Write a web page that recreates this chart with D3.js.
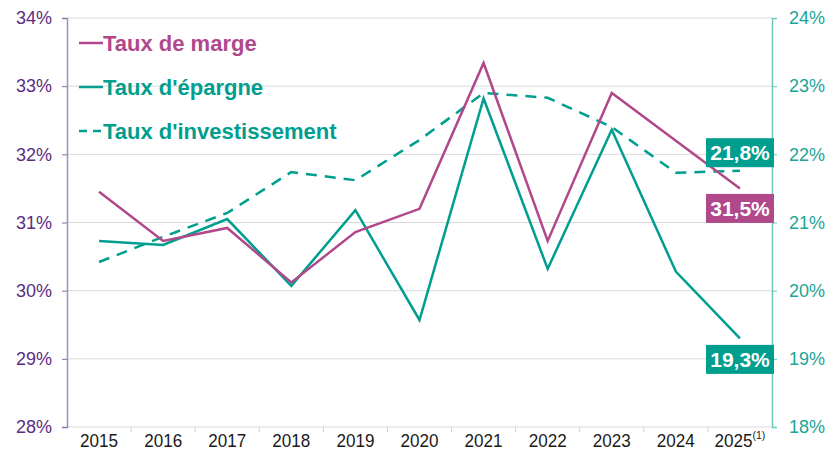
<!DOCTYPE html>
<html>
<head>
<meta charset="utf-8">
<script src="https://cdn.jsdelivr.net/npm/d3@7"></script>
<style>
  body { margin: 0; background: #fff; }
  text { font-family: "Liberation Sans", Arial, sans-serif; }
</style>
</head>
<body>
<div id="chart"></div>
<script>
const years = ["2015","2016","2017","2018","2019","2020","2021","2022","2023","2024","2025"];
const tauxMarge = [31.45, 30.73, 30.92, 30.12, 30.86, 31.2, 33.34, 30.73, 32.9, 32.2, 31.5];
const tauxEpargne = [20.73, 20.67, 21.05, 20.07, 21.18, 19.57, 22.82, 20.32, 22.36, 20.28, 19.3];
const tauxInvest = [20.42, 20.79, 21.14, 21.74, 21.62, 22.21, 22.9, 22.83, 22.4, 21.73, 21.76];
const leftTicks = [28, 29, 30, 31, 32, 33, 34];
const rightTicks = [18, 19, 20, 21, 22, 23, 24];
const endLabels = ["21,8%", "31,5%", "19,3%"];

const width = 826, height = 452;
const margin = { left: 67, right: 54, top: 18, bottom: 25 };
const pink = "#b0488b", teal = "#009e8e";

const svg = d3.select("#chart").append("svg")
  .attr("width", width).attr("height", height);

const x = d3.scaleBand().domain(years)
  .range([margin.left, width - margin.right]);
const yL = d3.scaleLinear().domain([28, 34]).range([height - margin.bottom, margin.top]);
const yR = d3.scaleLinear().domain([18, 24]).range([height - margin.bottom, margin.top]);
const cx = d => x(d) + x.bandwidth() / 2;

// gridlines
svg.append("g").selectAll("line").data(leftTicks).enter().append("line")
  .attr("x1", margin.left).attr("x2", width - margin.right)
  .attr("y1", d => yL(d)).attr("y2", d => yL(d))
  .attr("stroke", "#d9d9d9").attr("stroke-width", 1);

// left axis
const gl = svg.append("g").attr("transform", `translate(${margin.left},0)`)
  .call(d3.axisLeft(yL).tickValues(leftTicks).tickFormat(d => d + "%").tickSize(5).tickPadding(10));
gl.select(".domain").attr("stroke", "#a98bc2").attr("stroke-width", 1.5);
gl.selectAll(".tick line").attr("stroke", "#8a6aa8");
gl.selectAll("text").attr("fill", "#5b2d82").style("font-size", "18px");

// right axis
const gr = svg.append("g").attr("transform", `translate(${width - margin.right},0)`)
  .call(d3.axisRight(yR).tickValues(rightTicks).tickFormat(d => d + "%").tickSize(5).tickPadding(12));
gr.select(".domain").attr("stroke", "#6cc6bb").attr("stroke-width", 1.5);
gr.selectAll(".tick line").attr("stroke", "#6cc6bb");
gr.selectAll("text").attr("fill", "#1aa596").style("font-size", "18px");

// bottom axis, slightly condensed labels
const gb = svg.append("g").attr("transform", `translate(0,${height - margin.bottom})`)
  .call(d3.axisBottom(x).tickSize(0).tickPadding(7.5));
gb.select(".domain").remove();
gb.selectAll("text").attr("fill", "#1a1a1a")
  .style("font-size", "18px")
  .attr("transform", "scale(0.95,1)");
gb.selectAll(".tick").filter(d => d === "2025").select("text")
  .append("tspan").attr("dy", "-0.75em").style("font-size", "11px").text("(1)");
svg.append("g").selectAll("line").data(years.slice(1)).enter().append("line")
  .attr("x1", d => x(d)).attr("x2", d => x(d))
  .attr("y1", yL(28)).attr("y2", yL(28) + 5)
  .attr("stroke", "#d0d0d0");

// lines
const lineL = d3.line().x((d, i) => cx(years[i])).y(d => yL(d));
const lineR = d3.line().x((d, i) => cx(years[i])).y(d => yR(d));

svg.append("path").datum(tauxInvest).attr("d", lineR)
  .attr("fill", "none").attr("stroke", teal).attr("stroke-width", 2.5)
  .attr("stroke-dasharray", "11,8");
svg.append("path").datum(tauxEpargne).attr("d", lineR)
  .attr("fill", "none").attr("stroke", teal).attr("stroke-width", 2.5);
svg.append("path").datum(tauxMarge).attr("d", lineL)
  .attr("fill", "none").attr("stroke", pink).attr("stroke-width", 2.5);

// end labels
const last = years.length - 1;
const labels = [
  { text: endLabels[0], y: yR(tauxInvest[last]) - 18, color: teal },
  { text: endLabels[1], y: yL(tauxMarge[last]) + 20, color: pink },
  { text: endLabels[2], y: yR(tauxEpargne[last]) + 21, color: teal }
];
const lg = svg.append("g").selectAll("g").data(labels).enter().append("g");
lg.append("rect")
  .attr("x", width - margin.right - 66).attr("y", d => d.y - 14.5)
  .attr("width", 68).attr("height", 29).attr("fill", d => d.color);
lg.append("text")
  .attr("x", width - margin.right - 32).attr("y", d => d.y + 7.5)
  .attr("text-anchor", "middle").attr("fill", "#fff")
  .style("font-size", "21px").style("font-weight", "bold")
  .text(d => d.text);

// legend
const legend = [
  { name: "Taux de marge", color: pink, dash: null },
  { name: "Taux d'épargne", color: teal, dash: null },
  { name: "Taux d'investissement", color: teal, dash: "8,6" }
];
const leg = svg.append("g").selectAll("g").data(legend).enter().append("g")
  .attr("transform", (d, i) => `translate(79,${43 + i * 44})`);
leg.append("line").attr("x1", 0).attr("x2", 24).attr("y1", 0).attr("y2", 0)
  .attr("stroke", d => d.color).attr("stroke-width", 2.5)
  .attr("stroke-dasharray", d => d.dash);
leg.append("text").attr("x", 24).attr("y", 8)
  .attr("fill", d => d.color).style("font-size", "22px").style("font-weight", "bold")
  .text(d => d.name);
</script>
</body>
</html>
